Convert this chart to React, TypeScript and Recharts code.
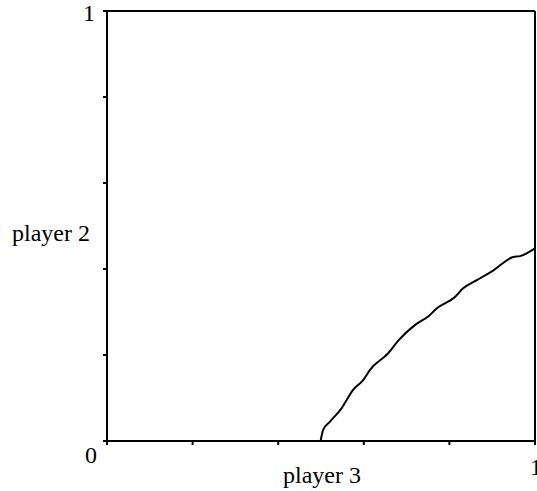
import { LineChart, Line, XAxis, YAxis, ReferenceLine } from "recharts";

// boundary curve: player 3 strategy (x) vs player 2 strategy (y)
const player3 = [
  0.499, 0.505, 0.521, 0.548, 0.575, 0.599, 0.614, 0.657, 0.681, 0.72, 0.751,
  0.77, 0.813, 0.832, 0.864, 0.903, 0.949, 0.965, 1.0,
];
const player2 = [
  0, 0.026, 0.045, 0.076, 0.119, 0.142, 0.165, 0.204, 0.234, 0.27, 0.29,
  0.308, 0.335, 0.355, 0.374, 0.397, 0.428, 0.43, 0.448,
];
const ticks = [0, 0.2, 0.4, 0.6, 0.8, 1];

const data = player3.map((x, i) => ({ x, y: player2[i] }));

const FONT = "'Liberation Serif', 'Times New Roman', serif";

function XTick(props: any) {
  const { x, y, payload } = props;
  if (payload.value === 0) {
    return (
      <text x={x - 10} y={y + 10} textAnchor="end" fontFamily={FONT} fontSize={24} fill="#000">
        0
      </text>
    );
  }
  if (payload.value === 1) {
    return (
      <text x={x - 3} y={y + 22} textAnchor="start" fontFamily={FONT} fontSize={24} fill="#000">
        1
      </text>
    );
  }
  return null;
}

function YTick(props: any) {
  const { x, y, payload } = props;
  if (payload.value !== 1) return null;
  return (
    <text x={x} y={y + 10} textAnchor="end" fontFamily={FONT} fontSize={24} fill="#000">
      1
    </text>
  );
}

export default function App() {
  return (
    <div style={{ position: "absolute", left: 0, top: 0, background: "#fff" }}>
      <LineChart
        width={537}
        height={491}
        data={data}
        margin={{ top: 11, right: 2, bottom: 0, left: 0 }}
      >
        <XAxis
          dataKey="x"
          type="number"
          domain={[0, 1]}
          ticks={ticks}
          height={50}
          tickSize={4}
          tickMargin={8}
          tick={<XTick />}
          stroke="#000"
          strokeWidth={2}
          label={{
            content: (p: any) => (
              <text
                x={p.viewBox.x + p.viewBox.width / 2 + 1}
                y={p.viewBox.y + 42}
                textAnchor="middle"
                fontFamily={FONT}
                fontSize={24}
                fill="#000"
              >
                player 3
              </text>
            ),
          }}
        />
        <YAxis
          type="number"
          domain={[0, 1]}
          ticks={ticks}
          width={107}
          tickSize={4}
          tickMargin={8}
          tick={<YTick />}
          stroke="#000"
          strokeWidth={2}
          label={{
            content: (p: any) => (
              <text
                x={51}
                y={p.viewBox.y + 230}
                textAnchor="middle"
                fontFamily={FONT}
                fontSize={24}
                fill="#000"
              >
                player 2
              </text>
            ),
          }}
        />
        <ReferenceLine y={1} stroke="#000" strokeWidth={2} />
        <ReferenceLine x={1} stroke="#000" strokeWidth={2} />
        <Line
          dataKey="y"
          type="monotone"
          stroke="#000"
          strokeWidth={2}
          dot={false}
          isAnimationActive={false}
        />
      </LineChart>
    </div>
  );
}
